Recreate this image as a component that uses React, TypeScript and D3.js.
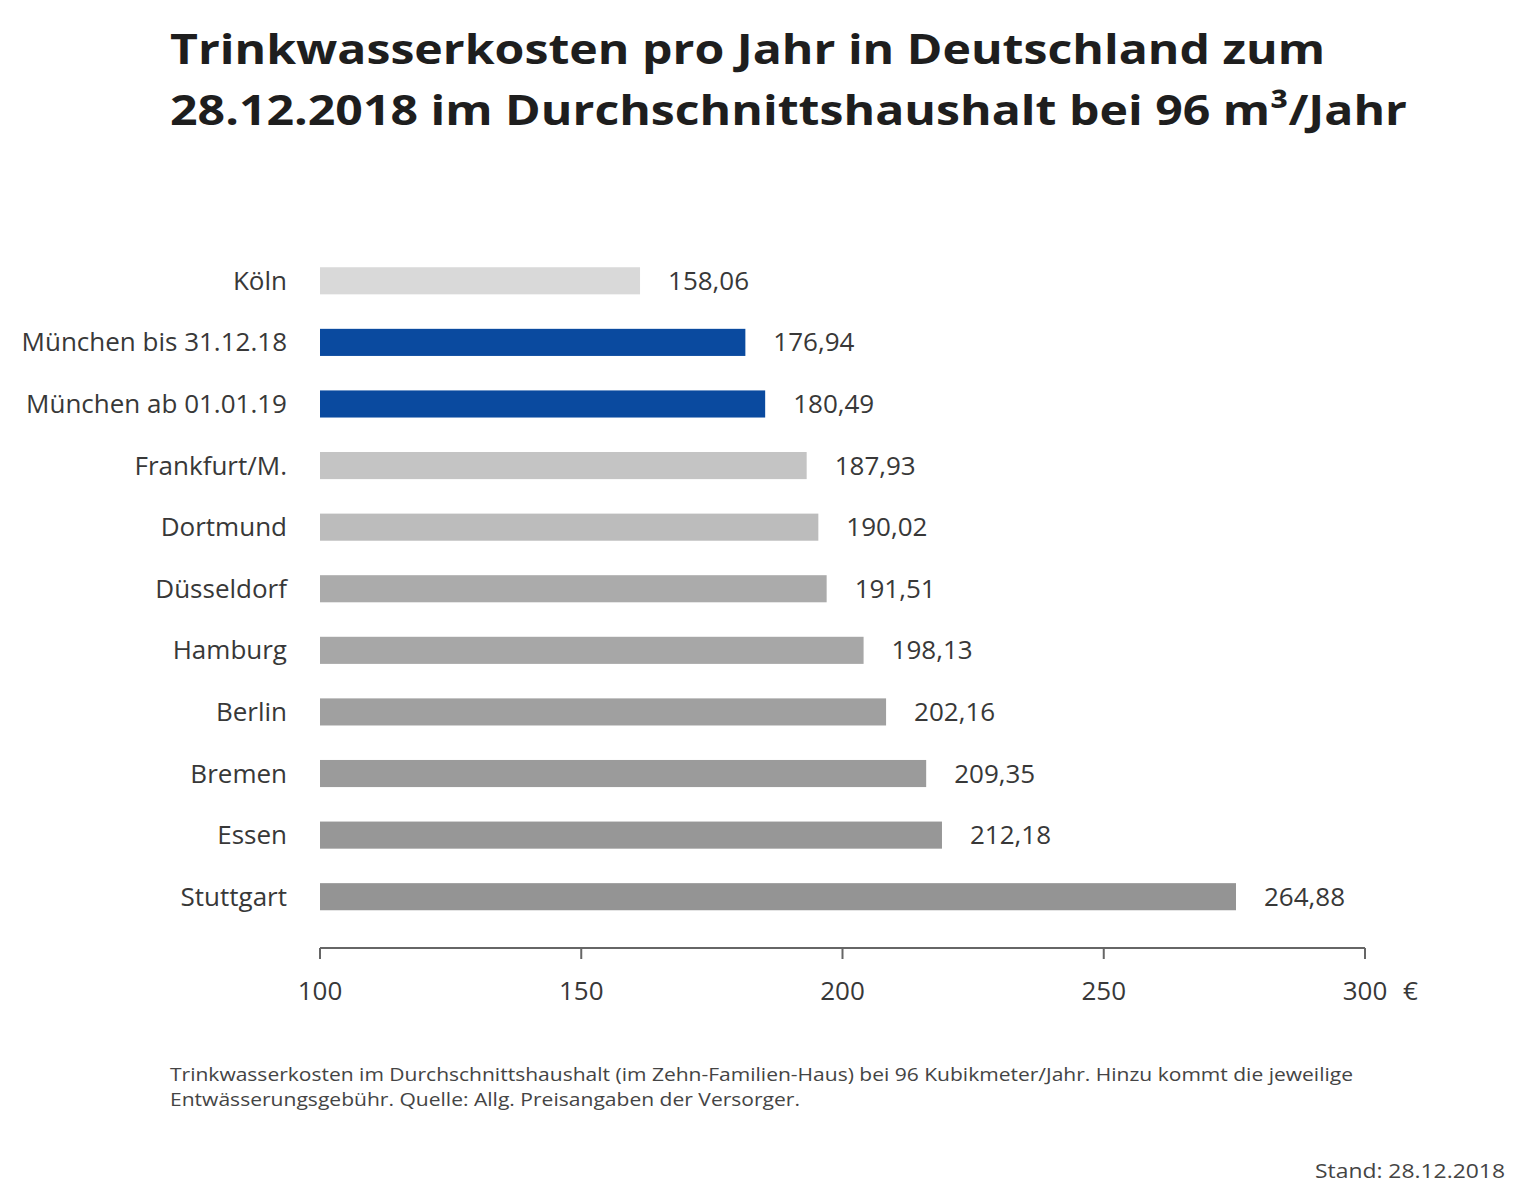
import React from "react";
import * as d3 from "d3";

const cities = [
  "Köln",
  "München bis 31.12.18",
  "München ab 01.01.19",
  "Frankfurt/M.",
  "Dortmund",
  "Düsseldorf",
  "Hamburg",
  "Berlin",
  "Bremen",
  "Essen",
  "Stuttgart",
];
const costs = [158.06, 176.94, 180.49, 187.93, 190.02, 191.51, 198.13, 202.16, 209.35, 212.18, 264.88];
const barColors = [
  "#d9d9d9", "#0a4a9f", "#0a4a9f", "#c4c4c4", "#bcbcbc", "#ababab",
  "#a7a7a7", "#a0a0a0", "#9b9b9b", "#979797", "#949494",
];
const axisTicks = [100, 150, 200, 250, 300];
const titleLines = [
  "Trinkwasserkosten pro Jahr in Deutschland zum",
  "28.12.2018 im Durchschnittshaushalt bei 96 m³/Jahr",
];
const noteLines = [
  "Trinkwasserkosten im Durchschnittshaushalt (im Zehn-Familien-Haus) bei 96 Kubikmeter/Jahr. Hinzu kommt die jeweilige",
  "Entwässerungsgebühr. Quelle: Allg. Preisangaben der Versorger.",
];
const standText = "Stand: 28.12.2018";

const fmt = (v: number) => v.toFixed(2).replace(".", ",");

export default function App() {
  const W = 1514;
  const H = 1200;
  const font = "'Open Sans', 'Noto Sans', sans-serif";

  // axis scale
  const x = d3.scaleLinear().domain([100, 300]).range([320, 1365]);
  // bars in the original graphic are drawn on their own (slightly stretched) scale
  const xBar = d3.scaleLinear().domain([100.7, 264.88]).range([320, 1236]);
  const y = d3
    .scaleBand()
    .domain(cities)
    .range([250, 927.5])
    .paddingInner(0.56)
    .paddingOuter(0.28);

  const axisY = 948;
  const textCol = "#383838";

  return (
    <svg width={W} height={H} style={{ position: "absolute", left: 0, top: 0, background: "#fff" }} fontFamily={font}>
      <rect width={W} height={H} fill="#fff" />
      {titleLines.map((t, i) => (
        <text
          key={i}
          x={170}
          y={64 + i * 61}
          fontSize={41}
          fontWeight={700}
          fill="#1e1e1e"
          textLength={i === 0 ? 1155 : 1237}
          lengthAdjust="spacingAndGlyphs"
        >
          {t}
        </text>
      ))}

      {cities.map((c, i) => {
        const yy = y(c)!;
        const bh = y.bandwidth();
        const cy = yy + bh / 2;
        return (
          <g key={c}>
            <text x={287} y={cy} dy="0.35em" textAnchor="end" fontSize={26} fill={textCol}>
              {c}
            </text>
            <rect x={xBar(100.7)} y={yy} width={xBar(costs[i]) - xBar(100.7)} height={bh} fill={barColors[i]} />
            <text x={xBar(costs[i]) + 28} y={cy} dy="0.35em" fontSize={26} fill={textCol}>
              {fmt(costs[i])}
            </text>
          </g>
        );
      })}

      <line x1={x(100)} x2={x(300)} y1={axisY} y2={axisY} stroke="#666" strokeWidth={2} />
      {axisTicks.map((t) => (
        <g key={t}>
          <line x1={x(t)} x2={x(t)} y1={axisY} y2={axisY + 11} stroke="#666" strokeWidth={2} />
          <text x={x(t)} y={1000} textAnchor="middle" fontSize={26} fill={textCol}>
            {t}
          </text>
        </g>
      ))}
      <text x={1403} y={1000} fontSize={26} fill={textCol}>
        €
      </text>

      {noteLines.map((t, i) => (
        <text
          key={i}
          x={170}
          y={1081 + i * 25}
          fontSize={19}
          fill="#444"
          textLength={i === 0 ? 1183 : 630}
          lengthAdjust="spacingAndGlyphs"
        >
          {t}
        </text>
      ))}
      <text
        x={1315}
        y={1178}
        fontSize={20}
        fill="#444"
        textLength={190}
        lengthAdjust="spacingAndGlyphs"
      >
        {standText}
      </text>
    </svg>
  );
}
